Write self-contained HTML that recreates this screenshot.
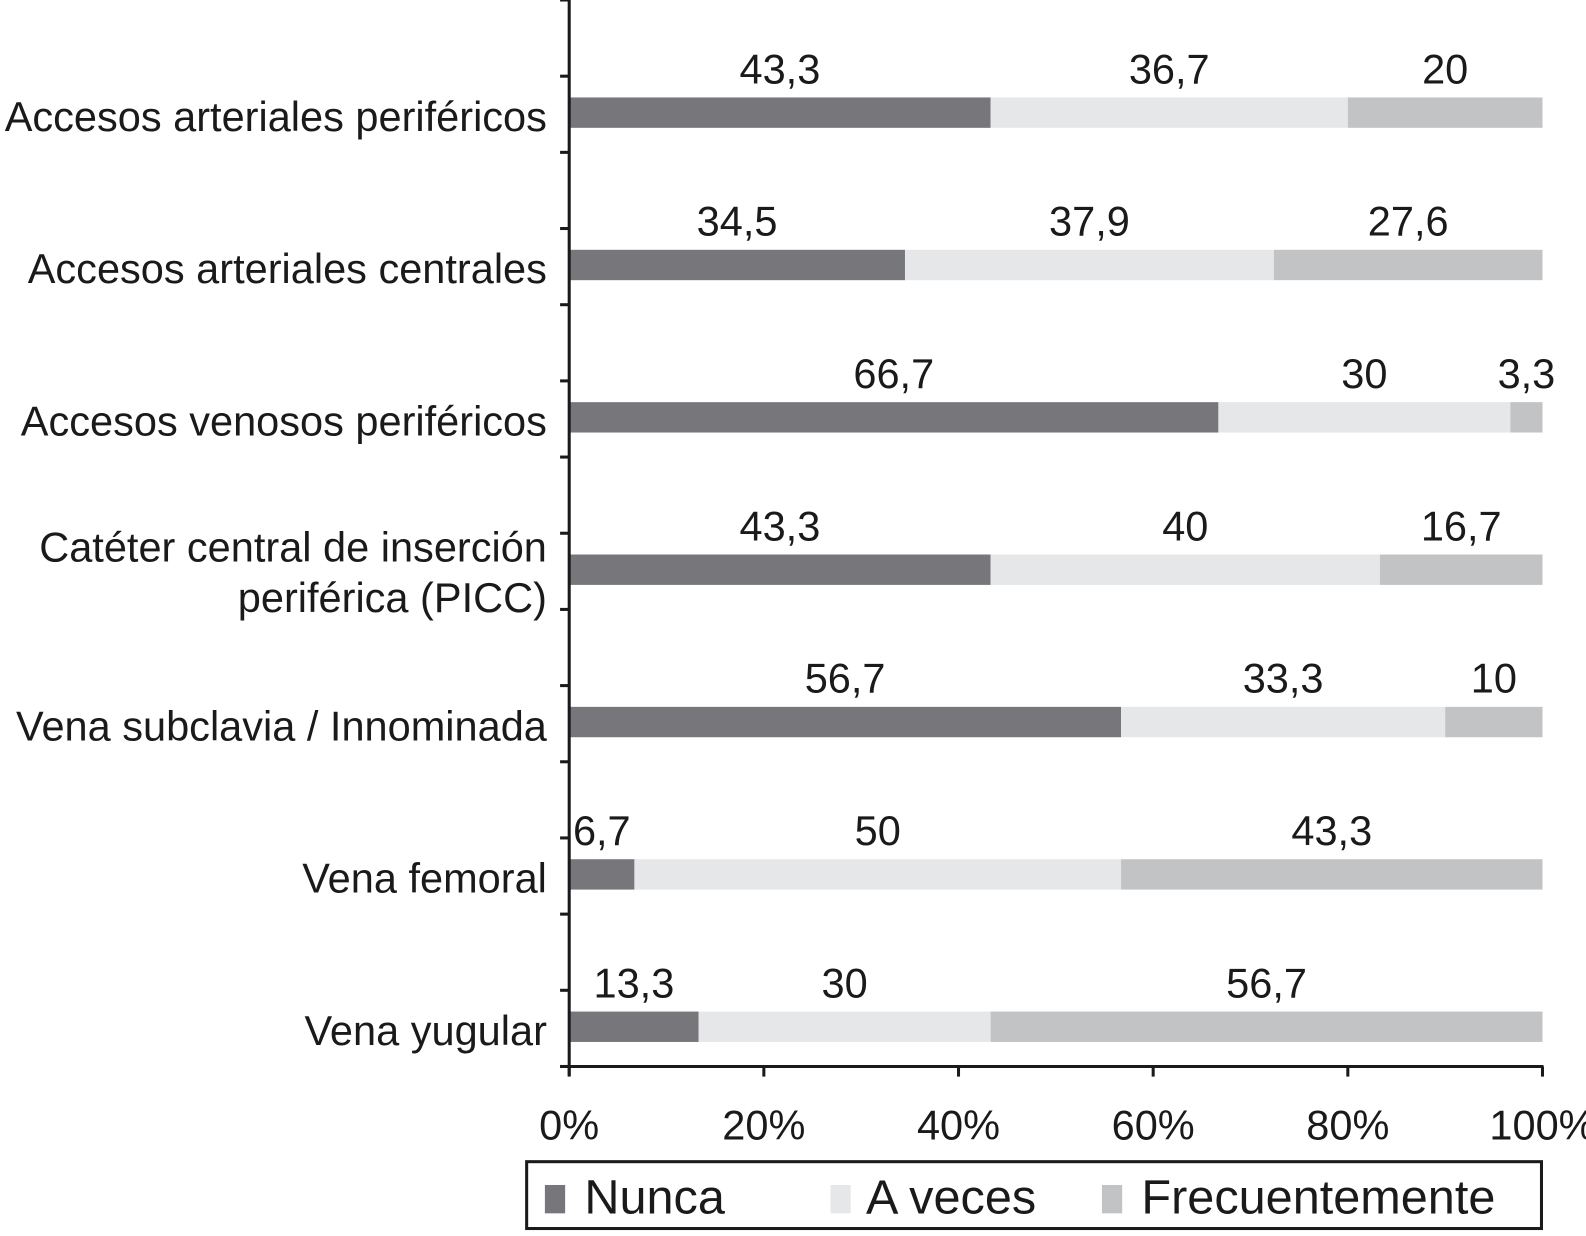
<!DOCTYPE html>
<html><head><meta charset="utf-8"><style>
body{margin:0;background:#fff;width:1586px;height:1231px;overflow:hidden}
svg text{font-family:"Liberation Sans",Arial,sans-serif;fill:#1a1a1a}
</style></head><body>
<svg id="chart" width="1586" height="1231" xmlns="http://www.w3.org/2000/svg"><g id="root" transform="scale(1.0128)"></g></svg>
<script>
const categories=[["Accesos arteriales periféricos"],["Accesos arteriales centrales"],["Accesos venosos periféricos"],["Catéter central de inserción","periférica (PICC)"],["Vena subclavia / Innominada"],["Vena femoral"],["Vena yugular"]];
const nunca=[43.3,34.5,66.7,43.3,56.7,6.7,13.3];
const aveces=[36.7,37.9,30,40,33.3,50,30];
const frecuente=[20,27.6,3.3,16.7,10,43.3,56.7];
const seriesNames=["Nunca","A veces","Frecuentemente"];
const xTicks=[0,20,40,60,80,100];
const colors=["#77777b","#e6e7e8","#c2c3c5"];
const NS="http://www.w3.org/2000/svg";
const svg=document.getElementById('root');
const X0=562,X1=1523,TOP=0,BOT=1053;
const band=(BOT-TOP)/categories.length;
const x=v=>X0+(X1-X0)*v/100;
function el(t,a,txt){const e=document.createElementNS(NS,t);for(const k in a)e.setAttribute(k,a[k]);if(txt!==undefined)e.textContent=txt;svg.appendChild(e);return e;}
const series=[nunca,aveces,frecuente];
categories.forEach((c,i)=>{
  const cy=TOP+band*(i+0.5)+36;
  const tot=nunca[i]+aveces[i]+frecuente[i];
  let acc=0;
  series.forEach((s,j)=>{
    const a=x(acc/tot*100),b=x((acc+s[i])/tot*100);
    const r=el('rect',{x:a,y:cy-15,width:b-a,height:30,fill:colors[j]});
    
    
    const t=el('text',{x:(a+b)/2,y:cy-29,'font-size':41,'text-anchor':'middle'},String(s[i]).replace('.',','));
    
    
    acc+=s[i];
  });
  const n=c.length;
  c.forEach((line,k)=>{
    const t=el('text',{x:540,y:cy+18+(k-(n-1)/2)*50+(n>1?-1:0),'font-size':41,'text-anchor':'end'},line);
    
    
  });
});
let ax=el('line',{x1:X0,y1:TOP,x2:X0,y2:BOT+9,stroke:'#1a1a1a','stroke-width':3});


for(let k=0;k<=categories.length*2;k++){
  const y=TOP+band*k/2;
  el('line',{x1:X0-9,y1:y,x2:X0,y2:y,stroke:'#1a1a1a','stroke-width':3});
}
ax=el('line',{x1:X0-9,y1:BOT,x2:X1+1,y2:BOT,stroke:'#1a1a1a','stroke-width':3});


xTicks.forEach(v=>{
  el('line',{x1:x(v),y1:BOT,x2:x(v),y2:BOT+10,stroke:'#1a1a1a','stroke-width':3});
  const t=el('text',{x:x(v),y:1125,'font-size':41,'text-anchor':'middle'},v+'%');
  
  
});
const lg=el('rect',{x:520,y:1147,width:1002,height:66,fill:'#fff',stroke:'#1a1a1a','stroke-width':3});


const lx=[[538,577],[820,855],[1088,1127]];
seriesNames.forEach((n,j)=>{
  const r=el('rect',{x:lx[j][0],y:1170,width:20,height:28,fill:colors[j]});
  
  
  const t=el('text',{x:lx[j][1],y:1198,'font-size':48},n);
  
  
});
</script>
</body></html>
